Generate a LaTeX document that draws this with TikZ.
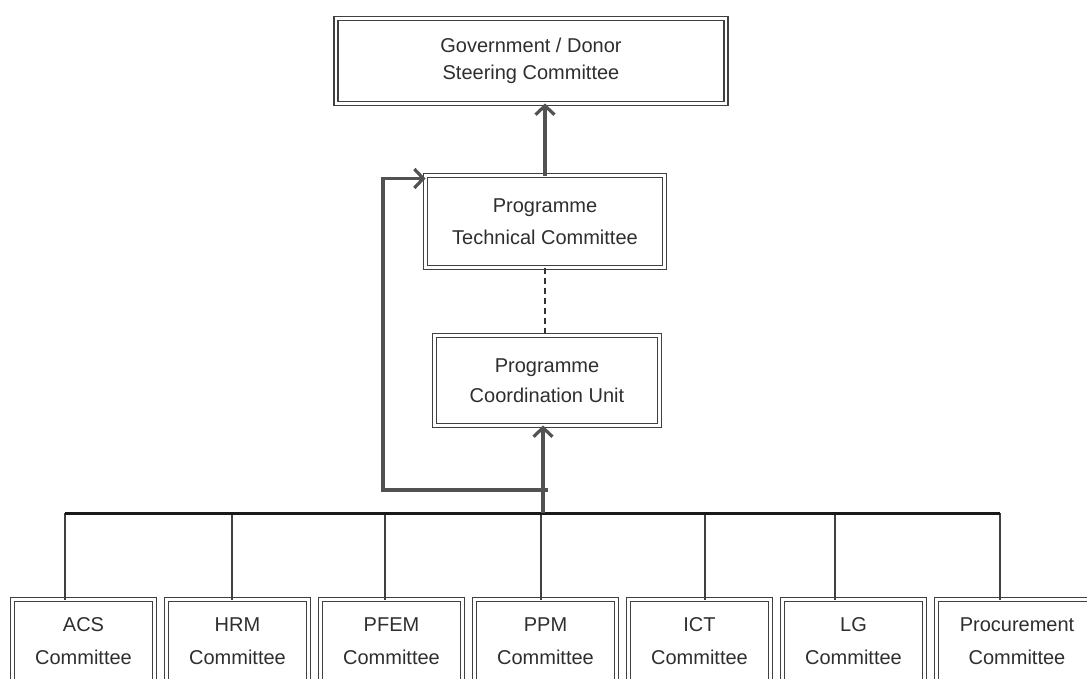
\documentclass[tikz,border=0pt]{standalone}
\usepackage{fontspec}
\setmainfont{Liberation Sans}
\usetikzlibrary{arrows.meta, positioning}

\begin{document}
\begin{tikzpicture}[
    x=1pt, y=-1pt,
    node distance = 12pt,
    every node/.style = {font=\fontsize{20}{30}\selectfont, text=black!82},
    dbox/.style = {
      rectangle, draw=black!75, line width=1.5pt,
      double=white, double distance=2.4pt,
      align=center, inner sep=0pt, outer sep=0pt
    },
    ctop/.style   = {dbox, minimum width=390pt, minimum height=85pt},
    ctech/.style  = {dbox, minimum width=239pt, minimum height=92pt},
    cunit/.style  = {dbox, minimum width=225pt, minimum height=90pt},
    ccom/.style   = {dbox, minimum width=142pt, minimum height=84pt},
    arr/.style = {-{Straight Barb[length=9pt, width=19pt, line width=3.2pt]},
                  line width=3.2pt, black!68},
    bus/.style  = {line width=3pt, black!90},
    drop/.style = {line width=1.2pt, black!75},
  ]
  \useasboundingbox (0,0) rectangle (1087,678);
  \clip (0,0) rectangle (1087,678);
  \node[ctop] (steer) at (531,61)
    {Government / Donor\\[-3pt]Steering Committee};
  \node[ctech] (tech) at (545,221.5)
    {Programme\\[2pt]Technical Committee};
  \node[cunit] (pcu) at (547,380.5)
    {Programme\\Coordination Unit};
  \node[ccom] (acs) at (83.5,641.5) {ACS\\[3pt]Committee};
  \node[ccom, right=of acs]  (hrm)  {HRM\\[3pt]Committee};
  \node[ccom, right=of hrm]  (pfem) {PFEM\\[3pt]Committee};
  \node[ccom, right=of pfem] (ppm)  {PPM\\[3pt]Committee};
  \node[ccom, right=of ppm]  (ict)  {ICT\\[3pt]Committee};
  \node[ccom, right=of ict]  (lg)   {LG\\[3pt]Committee};
  \node[ccom, minimum width=161pt, right=of lg] (proc)
    {Procurement\\[3pt]Committee};
  % bus and taps
  \coordinate (busL) at (65,513);
  \coordinate (busR) at (1000,513);
  \coordinate (hub) at (543,513);
  \coordinate (fb) at (548,490);
  \foreach \x/\n in {65/acs, 232/hrm, 385/pfem, 541/ppm, 705/ict, 835/lg, 1000/proc}{
    \coordinate (tap-\n) at (\x,513);
    \draw[drop] (tap-\n) -- (tap-\n |- \n.north);
  }
  \draw[bus] (busL) -- (busR);
  \draw[arr] (hub) -- (hub |- pcu.south);
  \draw[line width=1.2pt, black!80, dash pattern=on 6pt off 4pt]
    (tech.south) -- (tech.south |- pcu.north);
  \draw[arr] (tech.north) -- (tech.north |- steer.south);
  \draw[arr] (fb) -- ++(-165,0) |- ([yshift=-3pt]tech.north west);
\end{tikzpicture}
\end{document}
